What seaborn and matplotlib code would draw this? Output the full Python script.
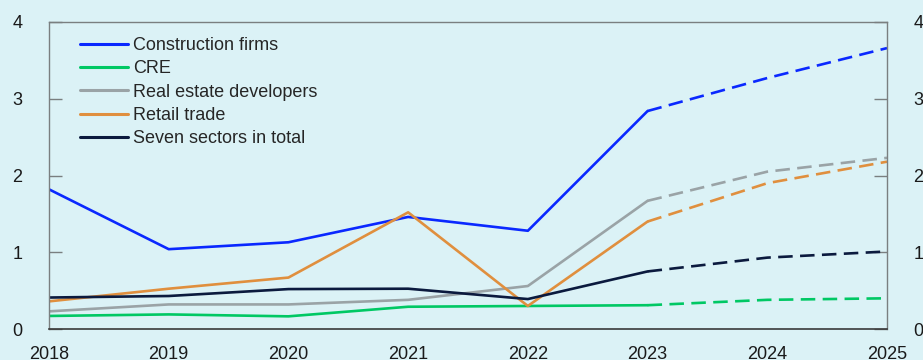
import numpy as np
import pandas as pd
import seaborn as sns
import matplotlib
matplotlib.use("Agg")
import matplotlib.pyplot as plt
from matplotlib.lines import Line2D

years = [2018, 2019, 2020, 2021, 2022, 2023, 2024, 2025]
construction = [1.82, 1.04, 1.13, 1.46, 1.28, 2.84, 3.27, 3.66]
cre = [0.17, 0.19, 0.165, 0.29, 0.30, 0.31, 0.38, 0.40]
real_estate = [0.23, 0.32, 0.32, 0.38, 0.56, 1.67, 2.05, 2.23]
retail = [0.36, 0.525, 0.67, 1.52, 0.30, 1.40, 1.90, 2.18]
seven = [0.41, 0.43, 0.52, 0.525, 0.39, 0.75, 0.93, 1.01]

series_names = ["Construction firms", "CRE", "Real estate developers",
                "Retail trade", "Seven sectors in total"]
series_values = [construction, cre, real_estate, retail, seven]
colors = ["#0a28ff", "#00c864", "#9aa3a6", "#e08f3e", "#0b1a3e"]
last_actual = 2023
y_ticks = [0, 1, 2, 3, 4]

rows = []
for name, vals in zip(series_names, series_values):
    for y, v in zip(years, vals):
        rows.append({"year": y, "value": v, "series": name})
df = pd.DataFrame(rows)
actual = df[df["year"] <= last_actual]
forecast = df[df["year"] >= last_actual]

sns.set_theme(style="white")
plt.rcParams["font.family"] = ["Liberation Sans", "DejaVu Sans"]
bg = "#dbf2f6"

fig = plt.figure(figsize=(9.23, 3.6), dpi=100, facecolor=bg)
ax = fig.add_axes([49 / 923, 1 - 329 / 360, (887 - 49) / 923, (329 - 22) / 360])
ax.set_facecolor(bg)

palette = dict(zip(series_names, colors))
sns.lineplot(data=actual, x="year", y="value", hue="series", palette=palette,
             hue_order=series_names, linewidth=1.9, ax=ax, legend=False)
sns.lineplot(data=forecast, x="year", y="value", hue="series", palette=palette,
             hue_order=series_names, linewidth=1.9, ax=ax, legend=False,
             linestyle=(0, (5.5, 2.8)))

ax.set_xlim(years[0], years[-1])
ax.set_ylim(0, 4)
ax.set_xticks(years)
ax.set_yticks(y_ticks)
ax.set_xlabel("")
ax.set_ylabel("")

for side in ["left", "right", "top"]:
    ax.spines[side].set_color("#7a7f80")
    ax.spines[side].set_linewidth(1.0)
ax.spines["bottom"].set_color("#3a3a3a")
ax.spines["bottom"].set_linewidth(1.2)

ax.tick_params(axis="x", direction="in", length=9.5, width=1.0, color="#3a3a3a",
               pad=12, labelsize=13, labelcolor="#1a1a1a")
ax.tick_params(axis="y", direction="in", length=9.5, width=1.0, color="#7a7f80",
               pad=19, labelsize=13, labelcolor="#1a1a1a",
               left=True, right=True, labelleft=True, labelright=True)

handles = [Line2D([], [], color=c, linewidth=2.2, linestyle="-") for c in colors]
ax.legend(handles, series_names, loc="upper left", bbox_to_anchor=(0.028, 0.975),
          frameon=False, fontsize=13, handlelength=2.65, handletextpad=0.3,
          labelspacing=0.35, borderaxespad=0)

fig.savefig("out.png", dpi=100, facecolor=bg)
